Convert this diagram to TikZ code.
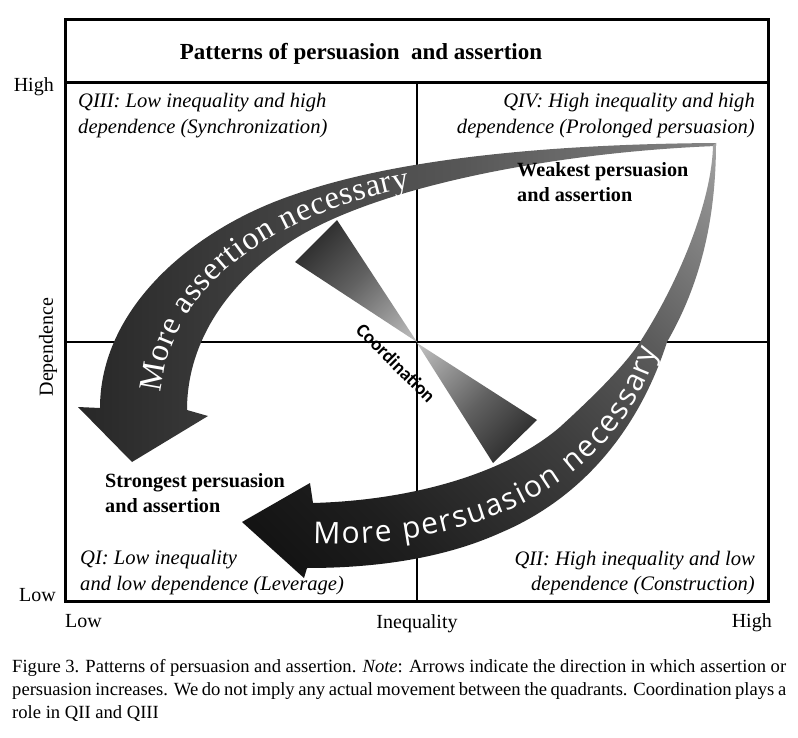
\documentclass[tikz,border=0pt]{standalone}
\usepackage{fontspec}
\setmainfont{Liberation Serif}
\newfontfamily\carlito{Carlito}
\newfontfamily\opensans{Open Sans}
\usetikzlibrary{decorations.text}

\pgfdeclarehorizontalshading{assertshade}{100bp}{color(0bp)=(black!97); color(20bp)=(black!88); color(35bp)=(black!78); color(55bp)=(black!66); color(75bp)=(black!48); color(100bp)=(black!15)}
\pgfdeclarehorizontalshading{persshade}{100bp}{color(0bp)=(black); color(30bp)=(black!88); color(50bp)=(black!76); color(65bp)=(black!64); color(80bp)=(black!45); color(100bp)=(black!12)}
\pgfdeclarehorizontalshading{bowshade}{100bp}{color(0bp)=(black); color(15bp)=(black!90); color(50bp)=(black!62); color(80bp)=(black!30); color(100bp)=(black!5)}

\begin{document}
\begin{tikzpicture}[x=1pt,y=-1pt,
  frame/.style={line width=3pt},
  divider/.style={line width=2.4pt},
  qlabel/.style={font=\fontsize{20.6}{24}\selectfont\itshape, inner sep=0},
  boldlabel/.style={font=\fontsize{20.2}{24}\selectfont\bfseries, inner sep=0},
  axislabel/.style={font=\fontsize{20}{24}\selectfont, inner sep=0},
  bandtext/.style={decorate, decoration={text along path, text align=fit to path, text={#1}}}
]
\path[use as bounding box, fill=white] (0,0) rectangle (798,738);

% frame and quadrant lines
\draw[frame] (65,20) rectangle (768,601);
\draw[frame] (65,83) -- (768,83);
\draw[divider] (417,83) -- (417,601);
\draw[divider] (65,342) -- (768,342);

% title
\node[font=\fontsize{23}{27}\selectfont\bfseries, inner sep=0, anchor=base] (title) at (361,60) {Patterns of persuasion\ \ and assertion};

% assertion arrow
\shade[shading=assertshade] (716,143) .. controls (560,144) and (400,157) .. (293,195)
  .. controls (190,230) and (100,310) .. (100,408) -- (78,407) -- (132,462) -- (208,416) -- (187,410)
  .. controls (187,340) and (230,280) .. (293,240) .. controls (380,185) and (560,152) .. (716,146) -- cycle;

% persuasion arrow
\shade[shading=persshade, shading angle=45] (716,143) .. controls (716,220) and (700,285) .. (667,342)
  .. controls (642,420) and (590,495) .. (500,533) .. controls (440,560) and (370,568) .. (307,568)
  -- (304,578) -- (242,522) -- (310,483) -- (313,503)
  .. controls (420,500) and (510,470) .. (560,427) .. controls (595,395) and (625,365) .. (640,342)
  .. controls (680,280) and (712,200) .. (713,145) -- cycle;

% coordination bow tie
\shade[shading=bowshade, shading angle=-45] (417,342) -- (337,220) -- (295,262) -- cycle;
\shade[shading=bowshade, shading angle=135] (417,343) -- (537,420) -- (493,463) -- cycle;

% band texts
\path[bandtext={|\color{white}\fontsize{32.5}{33}\selectfont|More assertion necessary}]
  (161,393) .. controls (171,282) and (280,213) .. (410,188);
\path[bandtext={|\color{white}\opensans\fontsize{30}{30}\selectfont|More persuasion necessary}]
  (313,543) .. controls (455,550) and (612,497) .. (657,350);

\node[font=\carlito\bfseries\fontsize{19}{19}\selectfont, inner sep=0, rotate=-45] (coord) at (396,363) {Coordination};

% quadrant labels
\node[qlabel, anchor=base west] (q3a) at (78,108) {QIII: Low inequality and high};
\node[qlabel, anchor=base west] (q3b) at (78,134) {dependence (Synchronization)};
\node[qlabel, anchor=base east] (q4a) at (755,108) {QIV: High inequality and high};
\node[qlabel, anchor=base east] (q4b) at (755,134) {dependence (Prolonged persuasion)};
\node[qlabel, anchor=base west] (q1a) at (80,564) {QI: Low inequality};
\node[qlabel, anchor=base west] (q1b) at (80,590) {and low dependence (Leverage)};
\node[qlabel, anchor=base east] (q2a) at (755,565) {QII: High inequality and low};
\node[qlabel, anchor=base east] (q2b) at (755,590) {dependence (Construction)};

\node[boldlabel, anchor=base west] (wk1) at (517,177) {Weakest persuasion};
\node[boldlabel, anchor=base west] (wk2) at (517,202) {and assertion};
\node[boldlabel, anchor=base west] (st1) at (105,487) {Strongest persuasion};
\node[boldlabel, anchor=base west] (st2) at (105,512) {and assertion};

% axis labels
\node[axislabel, anchor=base east] (yhigh) at (54,92) {High};
\node[axislabel, anchor=base east] (ylow) at (56,601) {Low};
\node[axislabel, rotate=90] (ydep) at (48,347) {Dependence};
\node[axislabel, anchor=base west] (xlow) at (65,627) {Low};
\node[axislabel, anchor=base] (xineq) at (417,628) {Inequality};
\node[axislabel, anchor=base east] (xhigh) at (772,627) {High};

% caption
\node[anchor=north west, inner sep=0, text width=774pt, align=justify, font=\fontsize{18.6}{23.2}\selectfont] (caption) at (12,659)
  {Figure 3. Patterns of persuasion and assertion. \textit{Note}: Arrows indicate the direction in which assertion or\linebreak persuasion increases. We do not imply any actual movement between the quadrants. Coordination plays a\linebreak role in QII and QIII};
\end{tikzpicture}
\end{document}
